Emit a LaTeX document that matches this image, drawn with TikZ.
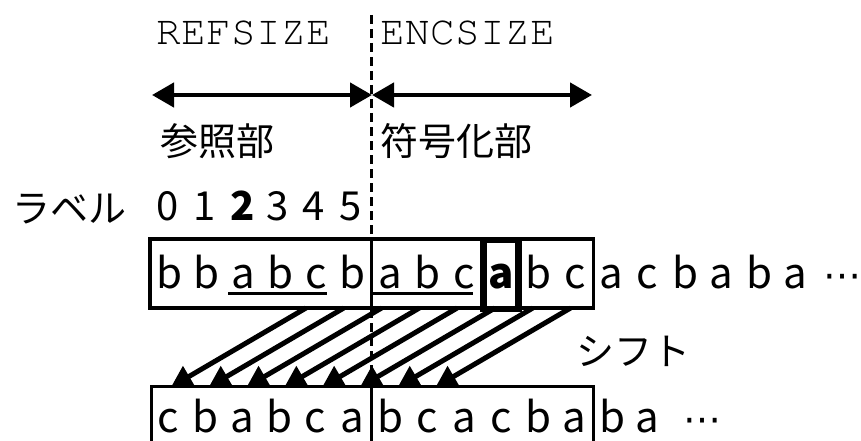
\documentclass[tikz,border=0pt]{standalone}
\usepackage{fontspec}
\setmainfont{Noto Sans CJK JP}
\newfontfamily\dotsfont{DejaVu Sans}
\newfontfamily\refmono{texgyrecursor-regular.otf}[LetterSpace=1]
\usetikzlibrary{arrows.meta}
\begin{document}
\begin{tikzpicture}[x=1pt,y={(0pt,-1pt)},
  letter/.style={anchor=base,inner sep=0pt,font=\fontsize{42}{46}\selectfont},
  digit/.style={anchor=base,inner sep=0pt,font=\fontsize{40}{44}\selectfont},
  dotsnode/.style={anchor=base,inner sep=0pt,font=\dotsfont\fontsize{38}{40}\selectfont},
  jp/.style={anchor=base west,inner sep=0pt,font=\fontsize{38}{40}\selectfont},
  mono/.style={anchor=base west,inner sep=0pt,font=\refmono\fontsize{41}{44}\selectfont},
  boxline/.style={line width=3.5pt},
  boldbox/.style={line width=6.5pt},
  underl/.style={line width=3.5pt},
  divline/.style={line width=3.5pt,dash pattern=on 9pt off 5pt},
  sizearrow/.style={line width=4.5pt,{Triangle[length=22pt,width=24pt]}-{Triangle[length=22pt,width=24pt]}},
  shiftarrow/.style={line width=5pt,-{Triangle[length=21pt,width=23pt]}}]
\useasboundingbox (0,0) rectangle (861,441);

% dashed divider
\coordinate (dtop) at (371.5,15);
\coordinate (dbot) at (371.5,387);
\draw[divline] (dtop) -- (dbot);

% size labels and arrows
\node[mono] (refsize) at (156,45) {REFSIZE};
\node[mono] (encsize) at (380,45) {ENCSIZE};
\coordinate (refL) at (152,95);
\coordinate (mid) at (372,95);
\coordinate (encR) at (592,95);
\draw[sizearrow] (refL) -- (mid);
\draw[sizearrow] (mid) -- (encR);

\node[jp] (sansho) at (160,155) {参照部};
\node[jp] (fugo) at (380,155) {符号化部};
\node[jp] (label) at (12,222) {ラベル};

% digit labels
\foreach \d/\x in {0/167.5,1/204.5,3/277.5,4/313.5,5/350.5}
  \node[digit] (n\d) at (\x,220) {\d};
\node[digit] (n2) at (242.5,220) {\textbf{2}};

% top box
\coordinate (tbl) at (150,308);
\coordinate (tbr) at (593.5,239);
\draw[boxline] (tbl) rectangle (tbr);
\coordinate (tdt) at (371.5,239);
\coordinate (tdb) at (371.5,308);
\draw[boxline] (tdt) -- (tdb);
\coordinate (bbl) at (483.5,309);
\coordinate (bbr) at (518.5,240);
\draw[boldbox] (bbl) rectangle (bbr);

% top row letters
\foreach \c/\x [count=\i] in {b/169,b/206,a/243,b/280,c/316,b/352,a/390,b/427,c/464,b/538,c/575,a/611,c/647,b/685,a/721,b/759,a/795}
  \node[letter] (t\i) at (\x,288) {\c};
\node[letter] (tbold) at (501,288) {\textbf{a}};
\node[dotsnode] (tdots) at (842,288) {⋯};

% underlines
\coordinate (u1a) at (228,293.5);
\coordinate (u1b) at (327,293.5);
\coordinate (u2a) at (373,293.5);
\coordinate (u2b) at (473,293.5);
\draw[underl] (u1a) -- (u1b);
\draw[underl] (u2a) -- (u2b);

% shift arrows
\foreach \i in {0,...,7}{
  \coordinate (s\i) at ({306+37.8*\i},308);
  \coordinate (e\i) at ({171+37.8*\i},387);
  \draw[shiftarrow] (s\i) -- (e\i);
}
\node[jp] (shift) at (576,365) {シフト};

% bottom box
\coordinate (bl0) at (151.5,441);
\coordinate (bl1) at (151.5,386.5);
\coordinate (br1) at (593.5,386.5);
\coordinate (br0) at (593.5,441);
\draw[boxline] (bl0) -- (bl1) -- (br1) -- (br0);
\coordinate (bdt) at (371.5,386.5);
\coordinate (bdb) at (371.5,441);
\draw[boxline] (bdt) -- (bdb);

% bottom row letters
\foreach \c/\x [count=\i] in {c/168.5,b/205.5,a/242.5,b/279.5,c/315.5,a/352.5,b/390.5,c/427.5,a/464.5,c/501,b/538,a/574,b/612.5,a/647.5}
  \node[letter] (b\i) at (\x,432) {\c};
\node[dotsnode] (bdots) at (702,432) {⋯};
\end{tikzpicture}
\end{document}
